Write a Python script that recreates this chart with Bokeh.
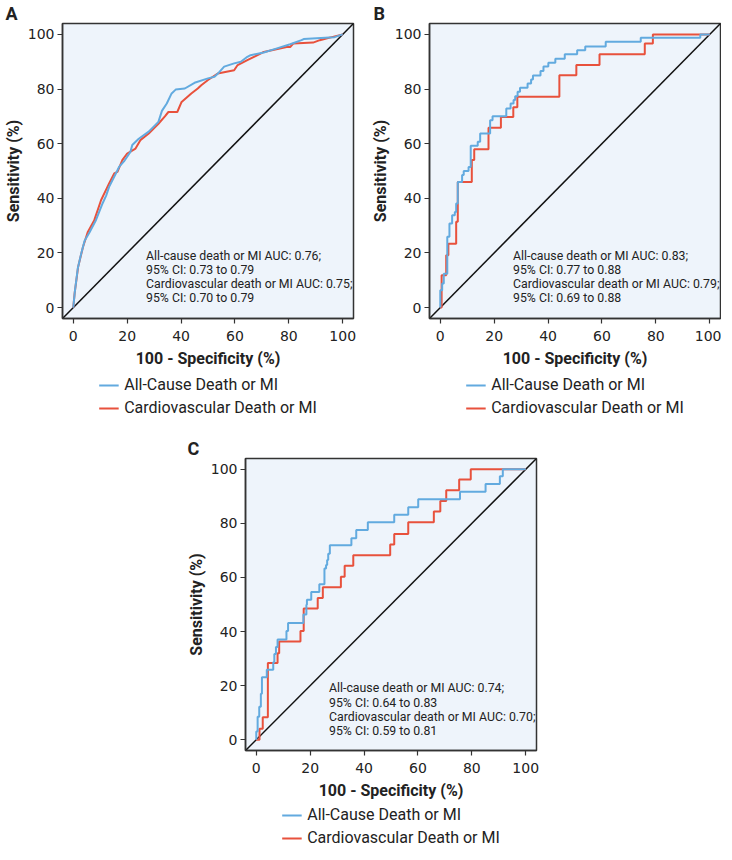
from bokeh.plotting import figure
from bokeh.models import Legend, LegendItem, Label, Range1d, FixedTicker, Spacer
from bokeh.layouts import row, column
from bokeh.embed import file_html
from bokeh.resources import INLINE

# ---------------- data ----------------
ticks = [0, 20, 40, 60, 80, 100]
axis_lo, axis_hi = -4, 104
legend_labels = ["All-Cause Death or MI", "Cardiovascular Death or MI"]

# Panel A (many small steps -> polyline)
a_all_x = [0, 0.6, 1.7, 3.0, 4.2, 6.0, 8.4, 10.9, 12.2, 13.3, 15.8, 17.0, 18.8, 21.2, 21.9, 24.3, 28.0,
           31.6, 32.9, 34.7, 36.5, 38.0, 41.4, 45.0, 50.0, 52.4, 54.0, 56.0, 59.7, 62.2, 64.6, 65.8,
           70.7, 75.6, 80.5, 84.7, 85.5, 95.1, 97.0, 100]
a_all_y = [0, 6, 14.5, 20, 24.5, 27.5, 32, 38.2, 41, 44.2, 49.1, 51.5, 53.5, 57, 59.5, 61.8, 64.4,
           68, 72, 74.7, 78.4, 79.8, 80.2, 82.3, 83.9, 84.5, 86, 88.2, 89.4, 90, 91.8, 92.4,
           93.4, 94.9, 96.4, 97.9, 98.3, 98.9, 99, 100]
a_cv_x = [0, 0.5, 1.8, 3.6, 5.4, 7.8, 10.3, 12.1, 13.3, 15.2, 16.4, 18.2, 20.0, 23.1, 24.9, 28.0,
          31.6, 34.0, 35.3, 38.6, 40.2, 43.8, 46.2, 47.5, 50.0, 53.6, 59.7, 61.0, 64.6, 69.5, 70.7,
          79.2, 80.5, 81.7, 89.0, 91.5, 93.9, 96.3, 100]
a_cv_y = [0, 5.2, 14.9, 22.2, 27.7, 32, 39.3, 43, 45.4, 49.1, 49.7, 54, 56.4, 58.2, 61.3, 63.7,
          67.3, 70.0, 71.6, 71.6, 75.3, 78.4, 80.2, 81.4, 83.3, 85.7, 86.9, 88.8, 90.6, 93.0, 93.6,
          95.4, 95.4, 96.7, 97.0, 97.9, 98.5, 99.1, 100]

# Panel B (staircase, top corner of each rise)
b_all_x = [0, 0, 0.7, 1.3, 2.6, 3.4, 4.4, 5.4, 5.9, 6.5, 8.1, 8.7, 10.5, 11.3, 13.9, 14.8, 18.5, 19.4,
           24.5, 26.1, 27.2, 27.8, 28.7, 29.6, 32.4, 33.7, 34.4, 37.2, 38.3, 40.1, 42.7, 46.2, 50.8,
           53.8, 61.4, 74.4, 96.5, 100]
b_all_y = [0, 6.3, 8.8, 12.4, 25.9, 30.8, 33.8, 35, 38.1, 46, 48.5, 50, 51.5, 59.2, 60.7, 63.7, 68.6, 70,
           72.9, 74.7, 76, 77.4, 79, 80.5, 82, 83.5, 85, 86.6, 88.3, 89.6, 91.1, 92.7, 94.2,
           95.6, 97.3, 98.8, 100, 100]
b_cv_x = [0, 0.5, 2.2, 3.0, 5.9, 6.5, 11.7, 12.6, 17.9, 22.5, 27.1, 28.6, 44.2, 50.5, 59.1, 75.9, 78.9, 100]
b_cv_y = [0, 11.8, 19.2, 23.4, 31.4, 46, 54, 58, 65.8, 69.8, 73.3, 77.2, 85.1, 88.8, 92.7, 96.7, 100, 100]

# Panel C (staircase, top corner of each rise)
c_all_x = [0, 0, 0.5, 1.1, 1.7, 2.1, 3.9, 6.3, 6.7, 7.3, 7.9, 11.2, 11.8, 17.5, 18.6, 18.8, 20.4, 23.4,
           25.3, 25.9, 26.3, 26.7, 27.3, 35.3, 37.1, 41.4, 51.2, 56.4, 60.1, 75.6, 85.1, 90.4, 91.5, 100]
c_all_y = [0, 3, 8.5, 12.2, 17, 23.1, 25.9, 28.6, 31.7, 34.3, 37.1, 40.2, 43.2, 46.3, 49.9, 51.8, 54.6, 57.5,
           63.3, 64.6, 66.5, 68.8, 71.9, 74.5, 77.6, 80.4, 83.2, 86, 88.9, 91.7, 94.6, 97.4, 100, 100]
c_cv_x = [0, 1.2, 2.4, 4.3, 7.9, 8.5, 16.4, 17.6, 22.8, 24.7, 31.4, 32.8, 36.0, 49.7, 51.2, 56.4, 65.9,
          68.3, 70.5, 75.3, 79.6, 100]
c_cv_y = [0, 4, 8.3, 28.4, 32, 36.3, 40.2, 48.5, 52.4, 56.4, 60.3, 64.3, 68.2, 72.2, 76.1, 80.4, 84.4,
          88.3, 92.3, 96.2, 100, 100]

a_text = ["All-cause death or MI AUC: 0.76;", "95% CI: 0.73 to 0.79",
          "Cardiovascular death or MI AUC: 0.75;", "95% CI: 0.70 to 0.79"]
b_text = ["All-cause death or MI AUC: 0.83;", "95% CI: 0.77 to 0.88",
          "Cardiovascular death or MI AUC: 0.79;", "95% CI: 0.69 to 0.88"]
c_text = ["All-cause death or MI AUC: 0.74;", "95% CI: 0.64 to 0.83",
          "Cardiovascular death or MI AUC: 0.70;", "95% CI: 0.59 to 0.81"]

# ---------------- style ----------------
BLUE = "#62aadf"
RED = "#e8513c"
FRAME_BG = "#eef4fb"
INK = "#222222"
FONT = "Roboto"
FW = 291


def make_panel(letter, ax_, ay_, cx_, cy_, stepped, text_lines, fh, bl, br, bt, letter_dx):
    p = figure(frame_width=FW, frame_height=fh, x_range=Range1d(axis_lo, axis_hi),
               y_range=Range1d(axis_lo, axis_hi), output_backend="svg", toolbar_location=None,
               min_border_left=bl, min_border_right=br, min_border_top=bt, min_border_bottom=0,
               title=letter)
    p.title.align = "left"
    p.title.offset = letter_dx
    p.title.standoff = 0
    p.title.text_font = FONT
    p.title.text_font_style = "bold"
    p.title.text_font_size = "18px"
    p.title.text_color = INK
    p.background_fill_color = FRAME_BG
    p.border_fill_color = "white"
    p.outline_line_color = "#333333"
    p.outline_line_width = 1.5
    p.grid.visible = False

    for ax in (p.xaxis[0], p.yaxis[0]):
        ax.ticker = FixedTicker(ticks=ticks)
        ax.minor_tick_line_color = None
        ax.major_tick_in = 0
        ax.major_tick_out = 5
        ax.major_tick_line_color = "#333333"
        ax.major_tick_line_width = 1.2
        ax.axis_line_color = "#333333"
        ax.axis_line_width = 1.5
        ax.major_label_text_font = "DejaVu Sans"
        ax.major_label_text_font_size = "14px"
        ax.major_label_text_color = INK
        ax.axis_label_text_font = FONT
        ax.axis_label_text_font_style = "bold"
        ax.axis_label_text_font_size = "16px"
        ax.axis_label_text_color = INK
    p.xaxis.major_label_standoff = 7
    p.xaxis.axis_label_standoff = 5
    p.yaxis.major_label_standoff = 3
    p.yaxis.axis_label_standoff = 2
    p.xaxis.axis_label = "100 - Specificity (%)"
    p.yaxis.axis_label = "Sensitivity (%)"

    p.line([axis_lo, axis_hi], [axis_lo, axis_hi], line_color="#111111", line_width=1.5)

    if stepped:
        rr = p.step(cx_, cy_, mode="after", line_color=RED, line_width=2)
        rb = p.step(ax_, ay_, mode="after", line_color=BLUE, line_width=2)
    else:
        rr = p.line(cx_, cy_, line_color=RED, line_width=2)
        rb = p.line(ax_, ay_, line_color=BLUE, line_width=2)

    p.add_layout(Label(x=27.0, y=21.6, text="\n".join(text_lines), text_font=FONT,
                       text_font_size="12.3px", text_color=INK, text_baseline="top",
                       text_line_height=1.02))
    return p


def make_legend(bl, br, h):
    lf = figure(frame_width=FW, frame_height=h, x_range=Range1d(0, 1), y_range=Range1d(0, 1),
                output_backend="svg", toolbar_location=None, x_axis_location=None,
                y_axis_location=None, min_border_left=bl, min_border_right=br,
                min_border_top=0, min_border_bottom=0)
    lf.grid.visible = False
    lf.outline_line_color = None
    lf.background_fill_color = "white"
    nan = float("nan")
    gb = lf.line(x=[nan], y=[nan], line_color=BLUE, line_width=2)
    gr = lf.line(x=[nan], y=[nan], line_color=RED, line_width=2)
    legend = Legend(items=[LegendItem(label=legend_labels[0], renderers=[gb], index=0),
                           LegendItem(label=legend_labels[1], renderers=[gr], index=0)],
                    location="center", orientation="vertical", border_line_color=None,
                    background_fill_alpha=0, glyph_width=20, glyph_height=18, label_height=18,
                    spacing=4, padding=0, margin=0, label_standoff=6,
                    label_text_font=FONT, label_text_font_size="16px", label_text_color=INK)
    lf.add_layout(legend)
    return lf


pa = make_panel("A", a_all_x, a_all_y, a_cv_x, a_cv_y, False, a_text, 295, 57, 13, 23, -57)
la = make_legend(57, 13, 52)
pb = make_panel("B", b_all_x, b_all_y, b_cv_x, b_cv_y, True, b_text, 295, 63, 1, 23, -56)
lb = make_legend(63, 1, 52)
pc = make_panel("C", c_all_x, c_all_y, c_cv_x, c_cv_y, True, c_text, 292, 58, 10, 36, -58)
lc = make_legend(58, 10, 48)

layout = column(row(column(pa, la), column(pb, lb)),
                row(Spacer(width=183, height=10), column(pc, lc)))
open("out.html", "w").write(file_html(layout, INLINE))
